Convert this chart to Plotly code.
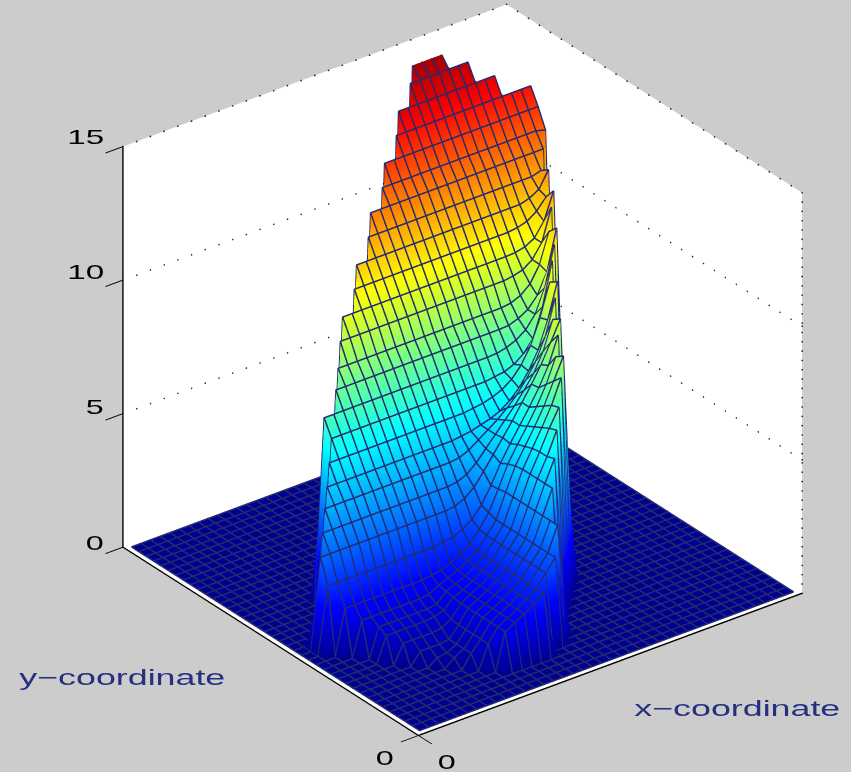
import plotly.graph_objects as go

# grid: 40 x 40 cell-centred nodes on a unit square
n_nodes = 40
x_nodes = [(k + 0.5) / n_nodes for k in range(n_nodes)]
y_nodes = [(k + 0.5) / n_nodes for k in range(n_nodes)]

# first x index of every non-zero row (row index = y index)
first_row = 4
row_start = [12, 11, 10, 9, 8, 7, 6, 5, 5, 4, 3, 2, 2, 3, 4, 5, 6, 7, 7, 9, 10, 11, 12, 14, 15, 17, 18, 20, 21, 23, 24, 26, 27]

# surface heights of the raised part, one list per y index
row_values = [
    [1.4, 1.6, 1.8, 2.05, 2.3],
    [.9, 1.4, 1.6, 1.8, 2.05, 2.3, 2.75, 3.2],
    [.5, .9, 1.4, 1.6, 1.8, 2.05, 2.3, 2.75, 3.2, 4.1],
    [.3, .5, .9, 1.4, 1.6, 1.8, 2.05, 2.3, 2.75, 3.2, 4.1],
    [.25, .3, .5, .9, 1.4, 1.6, 1.8, 2.05, 2.3, 2.75, 3.2, 4.1, 5.0],
    [.45, .45, .45, .5, .9, 1.4, 1.6, 1.8, 2.05, 2.3, 2.75, 3.2, 4.1, 5.0, 5.8],
    [.7, .7, .7, .7, .75, .95, 1.4, 1.6, 1.8, 2.05, 2.3, 2.75, 3.2, 4.1, 5.0, 5.7, 6.55],
    [.95] * 5 + [1.0, 1.1, 1.45, 1.6, 1.8, 2.05, 2.3, 2.75, 3.2, 4.1, 5.0, 5.7, 6.45, 7.1],
    [1.1] * 6 + [1.15, 1.5, 1.65, 1.8, 2.05, 2.3, 2.75, 3.2, 4.1, 5.0, 5.65, 6.3, 7.0, 7.9],
    [1.3] * 7 + [1.35, 1.55, 1.7, 1.85, 2.05, 2.3, 2.75, 3.2, 4.1, 4.95, 5.55, 6.15, 6.8, 7.6, 8.4],
    [1.7] * 9 + [1.75, 1.8, 1.95, 2.15, 2.4, 2.8, 3.3, 4.05, 4.85, 5.45, 6.0, 6.6, 7.3, 8.2],
    [2.5] * 12 + [2.55, 2.6, 2.75, 3.0, 3.4, 4.0, 4.7, 5.3, 5.85, 6.4, 7.0, 7.7, 8.7],
    [3.4] * 14 + [3.45, 3.6, 3.9, 4.35, 4.85, 5.35, 5.85, 6.4, 6.95, 7.55, 8.25, 9.0],
    [4.0] * 14 + [4.05, 4.2, 4.5, 4.9, 5.3, 5.7, 6.1, 6.55, 7.05, 7.75, 8.8],
    [4.6] * 14 + [4.65, 4.8, 5.05, 5.3, 5.55, 5.85, 6.2, 6.65, 7.2, 8.0, 9.3],
    [5.1] * 14 + [5.15, 5.2, 5.3, 5.4, 5.55, 5.8, 6.15, 6.65, 7.3, 8.3, 9.6],
    [5.7] * 15 + [5.75, 5.8, 5.9, 6.05, 6.3, 6.7, 7.3, 8.2, 9.4],
    [6.3] * 17 + [6.35, 6.4, 6.55, 6.8, 7.25, 8.3, 9.9],
    [6.9] * 18 + [6.92, 7.0, 7.15, 7.4, 7.85, 8.7, 10.2],
    [7.5] * 18 + [7.52, 7.65, 7.85, 8.25, 9.0, 10.5],
    [8.0] * 18 + [8.05, 8.2, 8.5, 9.1, 10.2],
    [8.7] * 18 + [8.75, 8.85, 9.1, 9.6, 10.8],
    [9.3] * 18 + [9.32, 9.4, 9.6, 10.1, 11.1],
    [9.9] * 17 + [9.95, 10.05, 10.3, 10.7],
    [10.5] * 18 + [10.6, 10.8, 11.4],
    [11.1] * 18 + [11.2],
    [11.7] * 19,
    [12.2] * 17 + [12.1],
    [12.8] * 17,
    [13.4] * 15,
    [14.0] * 11,
    [14.6] * 7,
    [15.0] * 4,
]

z_ticks = [0, 5, 10, 15]
z_tick_text = ["0", "5", "10", "15"]
x_title = "x\u2212coordinate"
y_title = "y\u2212coordinate"

# assemble height matrix from the rows above (everything else is the flat floor)
z_grid = [[0.0] * n_nodes for _ in range(n_nodes)]
for r, (s, vals) in enumerate(zip(row_start, row_values)):
    for c, v in enumerate(vals):
        z_grid[first_row + r][s + c] = v

jet = [[0, "rgb(0,0,143)"], [.11, "rgb(0,0,255)"], [.375, "rgb(0,255,255)"],
       [.625, "rgb(255,255,0)"], [.875, "rgb(255,0,0)"], [1, "rgb(128,0,0)"]]
mesh = "rgb(36,42,112)"

fig = go.Figure()
fig.add_trace(go.Surface(
    x=x_nodes, y=y_nodes, z=z_grid, colorscale=jet, cmin=0, cmax=15.6, showscale=False,
    lighting=dict(ambient=1, diffuse=0, specular=0, roughness=1, fresnel=0),
    hoverinfo="skip",
    contours=dict(x=dict(highlight=False), y=dict(highlight=False), z=dict(highlight=False)),
))

# wireframe drawn through the same nodes, slightly lifted so the surface does not hide it
lift = 0.03
mx, my, mz = [], [], []
for j in range(n_nodes):
    mx += x_nodes + [None]
    my += [y_nodes[j]] * n_nodes + [None]
    mz += [v + lift for v in z_grid[j]] + [None]
for i in range(n_nodes):
    mx += [x_nodes[i]] * n_nodes + [None]
    my += y_nodes + [None]
    mz += [z_grid[j][i] + lift for j in range(n_nodes)] + [None]
fig.add_trace(go.Scatter3d(x=mx, y=my, z=mz, mode="lines", line=dict(color=mesh, width=3),
                           hoverinfo="skip", showlegend=False, connectgaps=False))

# sparse dotted guides on the back walls
def dots(x0, y0, z0, x1, y1, z1, count):
    t = [k / count for k in range(count + 1)]
    fig.add_trace(go.Scatter3d(
        x=[x0 + (x1 - x0) * a for a in t], y=[y0 + (y1 - y0) * a for a in t], z=[z0 + (z1 - z0) * a for a in t],
        mode="markers", marker=dict(color="#222222", size=1, line=dict(width=0)), hoverinfo="skip", showlegend=False))

for level in [5, 10, 15]:
    dots(0, 1, level, 1, 1, level, 28)
    dots(1, 1, level, 1, 0, level, 27)
dots(1, 0, 0, 1, 0, 15, 43)

axis_common = dict(showbackground=True, backgroundcolor="white", showgrid=False, zeroline=False,
                   showline=True, linecolor="black", linewidth=3, ticks="outside", tickcolor="black",
                   ticklen=22, tickwidth=2, title=dict(text=""), showspikes=False, showticklabels=False)

direction = (-0.530, -0.695, 0.486)
center = (-0.0886, 0.0421, -0.0364)
dist = 1.28

# label placement in window pixels: text, centre x, centre y, stretched width, font size, colour
label_font = "Liberation Sans"
labels = [
    ("15", 85, 137, 37, 21, "black"),
    ("10", 85, 272, 37, 21, "black"),
    ("5", 95, 406, 18, 21, "black"),
    ("0", 95, 542, 18, 21, "black"),
    ("0", 385, 757, 18, 21, "black"),
    ("0", 447, 761, 18, 21, "black"),
    (y_title, 122, 677, 206, 22, "#25307e"),
    (x_title, 737, 708, 206, 22, "#25307e"),
]

fig.update_layout(
    width=851, height=772, paper_bgcolor="#cccccc", margin=dict(l=0, r=0, t=0, b=0), showlegend=False,
    scene=dict(
        domain=dict(x=[0, 1], y=[0, 1]),
        xaxis=dict(range=[0, 1], tickvals=[0], **axis_common),
        yaxis=dict(range=[0, 1], tickvals=[0], **axis_common),
        zaxis=dict(range=[0, 15], tickvals=z_ticks, **axis_common),
        aspectmode="manual", aspectratio=dict(x=1.25, y=1.2625, z=1.1875),
        camera=dict(projection=dict(type="orthographic"), up=dict(x=0, y=0, z=1),
                    center=dict(x=center[0], y=center[1], z=center[2]),
                    eye=dict(x=center[0] + dist * direction[0], y=center[1] + dist * direction[1], z=center[2] + dist * direction[2])),
    ),
    annotations=[
        dict(text=t, x=px / 851, y=1 - py / 772, xref="paper", yref="paper", xanchor="center", yanchor="middle",
             showarrow=False, font=dict(family=label_font, size=fs, color=col))
        for t, px, py, w, fs, col in labels
    ],
)

widths = [lab[3] for lab in labels]
stretch = """
document.body.style.margin='0';document.body.style.background='#cccccc';
var W=%s;
function stretchLabels(){
  document.querySelectorAll('.annotation-text').forEach(function(t,k){
    if(k<W.length){t.setAttribute('textLength',W[k]);t.setAttribute('lengthAdjust','spacingAndGlyphs');}
  });
}
stretchLabels();setTimeout(stretchLabels,100);setTimeout(stretchLabels,500);
""" % widths
fig.write_html("out.html", config=dict(displayModeBar=False), post_script=stretch)
